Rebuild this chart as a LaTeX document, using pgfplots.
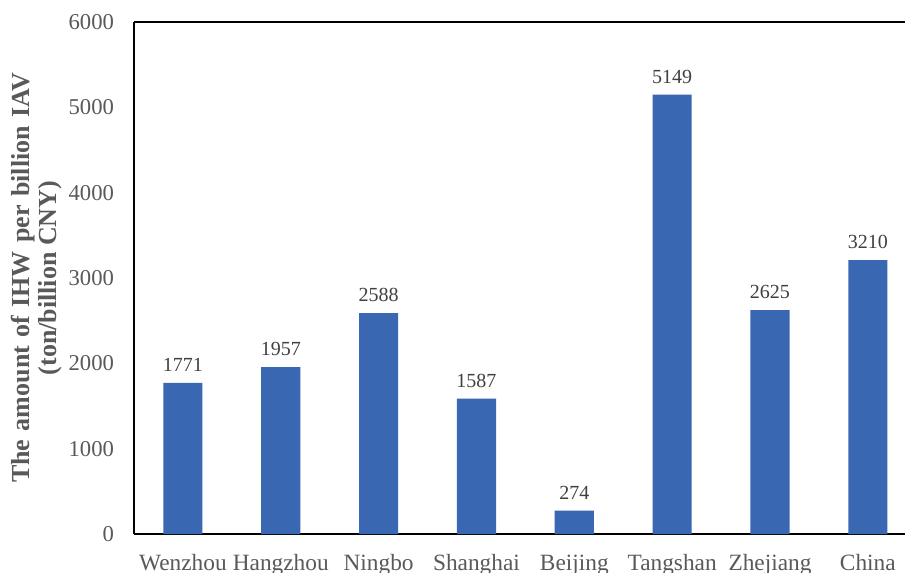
\documentclass[border=0pt]{standalone}
\usepackage{fontspec}
\setmainfont{Liberation Serif}
\usepackage{pgfplots}
\pgfplotsset{compat=1.18}
\usetikzlibrary{calc}
\definecolor{barblue}{RGB}{57,103,177}
\definecolor{labgray}{RGB}{89,89,89}
\definecolor{valgray}{RGB}{64,64,64}

\begin{document}
\begin{tikzpicture}
\begin{axis}[
    name=ax,
    scale only axis,
    width=578.25pt, height=384pt,
    axis x line=box, axis y line=left,
    axis line style={black, line width=1pt, -},
    xmin=-0.5, xmax=7.38,
    ymin=0, ymax=6000,
    ytick={0,1000,...,6000},
    xtick={0,...,7},
    xticklabels={Wenzhou,Hangzhou,Ningbo,Shanghai,Beijing,Tangshan,Zhejiang,China},
    major tick length=0pt,
    tick label style={text=labgray},
    yticklabel style={font=\fontsize{17}{20}\selectfont, xshift=-11.5pt},
    xticklabel style={font=\fontsize{17.5}{20}\selectfont, yshift=-12pt},
    /pgf/number format/assume math mode=true,
    scaled y ticks=false,
    yticklabel={\pgfmathprintnumber[fixed,1000 sep={}]{\tick}},
    ylabel={\spaceskip=6.3pt plus 1pt The amount of IHW per billion IAV\\(ton/billion CNY)},
    ylabel style={font=\bfseries\fontsize{19.5}{20.5}\selectfont, text=labgray, align=center},
    ylabel shift=-2pt,
    ybar, bar width=0.4,
    nodes near coords,
    nodes near coords style={font=\fontsize{15}{18}\selectfont, text=valgray, yshift=5pt},
    point meta=explicit symbolic,
]
\addplot[fill=barblue, draw=none] coordinates {
    (0,1771) [1771] (1,1957) [1957] (2,2588) [2588] (3,1587) [1587]
    (4,274) [274] (5,5149) [5149] (6,2625) [2625] (7,3210) [3210]
};
\end{axis}
\pgfresetboundingbox
\path ($(ax.south west)+(-100.5pt,-28.5pt)$) rectangle ($(ax.south west)+(578.25pt,400.5pt)$);
\end{tikzpicture}
\end{document}
